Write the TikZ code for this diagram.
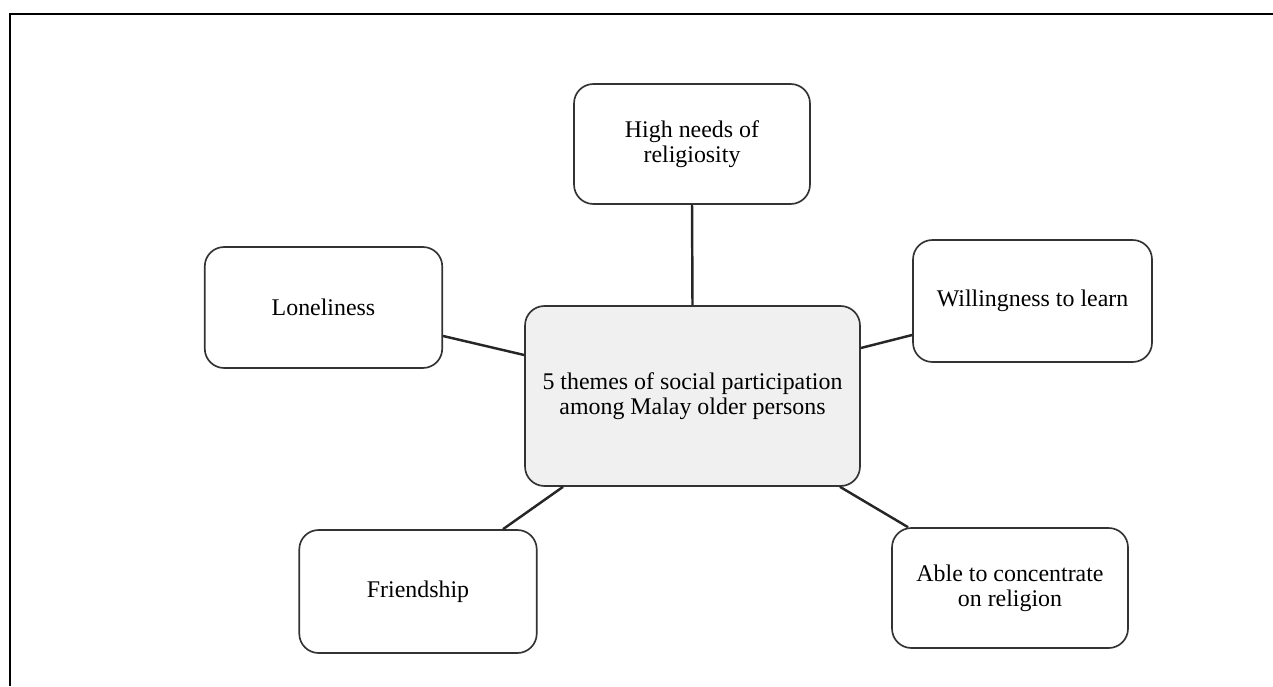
\documentclass[tikz,border=0pt]{standalone}
\usepackage{fontspec}
\setmainfont{Liberation Serif}
\usepackage{tikz}

\begin{document}
\begin{tikzpicture}[x=0.02cm, y=-0.02cm,
    theme/.style = {draw=black!80, line width=0.95pt, rounded corners=11pt, inner sep=0pt,
        minimum width=4.75cm, minimum height=2.42cm, align=center,
        font=\fontsize{13.6}{14.2}\selectfont},
    link/.style = {draw=black!85, line width=1.4pt}]
    \useasboundingbox (0,0) rectangle (1273,686);
    \draw [line width=1.15pt] (10,686) -- (10,14) -- (1273,14);

    \node [theme, fill=black!6, minimum width=6.7cm, minimum height=3.6cm] (centre) at (692.5,396)
        {5 themes of social participation\\among Malay older persons};
    \node [theme, minimum width=4.72cm, minimum height=2.4cm] (relig) at (692,144) {High needs of\\religiosity};
    \node [theme] (lone) at (323.5,307.5) {Loneliness};
    \node [theme, minimum width=4.78cm, minimum height=2.44cm] (will) at (1032.5,301) {Willingness to learn};
    \node [theme, minimum height=2.46cm] (friend) at (418,591.5) {Friendship};
    \node [theme, minimum width=4.72cm, minimum height=2.4cm] (able) at (1010,588) {Able to concentrate\\on religion};

    \draw [link] (relig.south) -- (centre.north);
    \draw [link] ([yshift=-0.57cm]lone.east) -- ([yshift=0.82cm]centre.west);
    \draw [link] ([yshift=0.96cm]centre.east) -- ([yshift=-0.68cm]will.west);
    \draw [link] ([xshift=-2.59cm]centre.south) -- ([xshift=1.7cm]friend.north);
    \draw [link] ([xshift=2.95cm]centre.south) -- ([xshift=-2.04cm]able.north);
\end{tikzpicture}
\end{document}
